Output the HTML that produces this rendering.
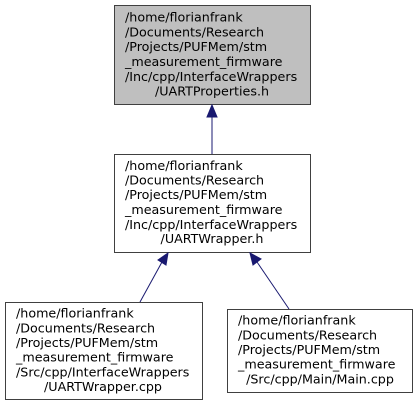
<!DOCTYPE html>
<html><head><meta charset="utf-8"><style>body{margin:0;background:#fff}svg{display:block}</style></head><body>
<svg width="418" height="407" xmlns="http://www.w3.org/2000/svg" font-family="'DejaVu Sans','Liberation Sans',sans-serif" font-size="12.7" fill="#000">
<rect x="114.5" y="5.5" width="196" height="99" fill="#bfbfbf" stroke="#404040"/>
<text x="125" y="21.5">/home/florianfrank</text>
<text x="125" y="36.5">/Documents/Research</text>
<text x="125" y="51">/Projects/PUFMem/stm</text>
<text x="125" y="66">_measurement_firmware</text>
<text x="125" y="81">/Inc/cpp/InterfaceWrappers</text>
<text x="212" y="95.5" text-anchor="middle">/UARTProperties.h</text>

<rect x="114.5" y="154.5" width="196" height="98" fill="#fff" stroke="#404040"/>
<text x="125" y="170">/home/florianfrank</text>
<text x="125" y="184.5">/Documents/Research</text>
<text x="125" y="199">/Projects/PUFMem/stm</text>
<text x="125" y="214">_measurement_firmware</text>
<text x="125" y="229">/Inc/cpp/InterfaceWrappers</text>
<text x="212" y="243" text-anchor="middle">/UARTWrapper.h</text>

<rect x="5.5" y="302.5" width="197" height="97" fill="#fff" stroke="#404040"/>
<text x="16" y="317.5">/home/florianfrank</text>
<text x="16" y="332.5">/Documents/Research</text>
<text x="16" y="347">/Projects/PUFMem/stm</text>
<text x="16" y="361.5">_measurement_firmware</text>
<text x="16" y="376.5">/Src/cpp/InterfaceWrappers</text>
<text x="103" y="391" text-anchor="middle">/UARTWrapper.cpp</text>

<rect x="227.5" y="309.5" width="185" height="83" fill="#fff" stroke="#404040"/>
<text x="238" y="324.5">/home/florianfrank</text>
<text x="238" y="339.5">/Documents/Research</text>
<text x="238" y="354">/Projects/PUFMem/stm</text>
<text x="238" y="368.5">_measurement_firmware</text>
<text x="320" y="383.5" text-anchor="middle">/Src/cpp/Main/Main.cpp</text>

<g stroke="#191970" fill="#191970">
<line x1="212" y1="154" x2="212" y2="117"/>
<polygon points="212,105 207,117 217,117"/>
<line x1="140" y1="302" x2="162" y2="262"/>
<polygon points="168,253 158,260 166,265"/>
<line x1="289" y1="309" x2="257" y2="262"/>
<polygon points="250,253 253,265 261,259"/>
</g>
</svg>
</body></html>
